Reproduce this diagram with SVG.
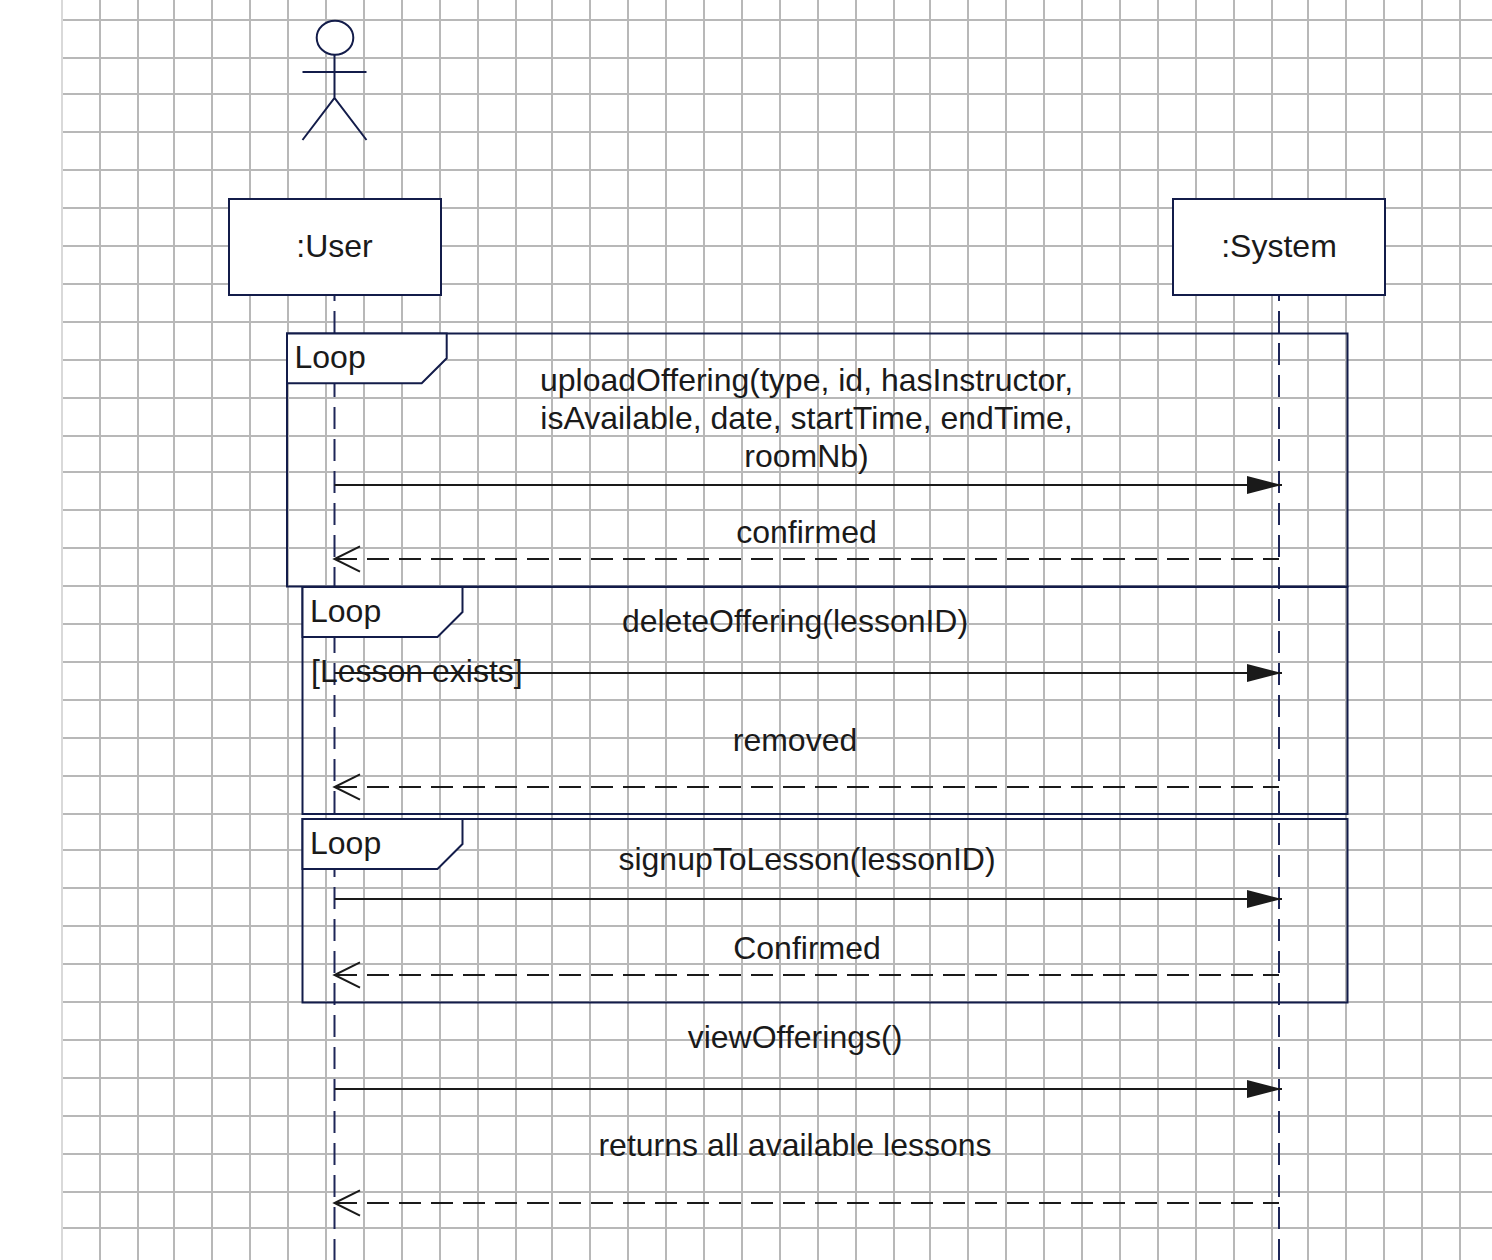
<svg xmlns="http://www.w3.org/2000/svg" width="1492" height="1260" viewBox="0 0 1492 1260">
<style>
text{font-family:"Liberation Sans",Arial,sans-serif;font-size:32px;fill:#1a1a1a}
.c{text-anchor:middle}
.g path{fill:none;stroke:#b8b8b8;stroke-width:2}
.n{fill:#fff;stroke:#131c4a;stroke-width:2}
.f{fill:none;stroke:#131c4a;stroke-width:2}
.life{stroke:#1e2658;stroke-width:2;fill:none;stroke-dasharray:22 10;stroke-dashoffset:16}
.msg{stroke:#1a1a1a;stroke-width:2;fill:none}
.ret{stroke:#1a1a1a;stroke-width:2;fill:none;stroke-dasharray:22 10;stroke-dashoffset:6}
.open{stroke:#1a1a1a;stroke-width:2;fill:none}
</style>
<defs>
<marker id="solid" markerUnits="userSpaceOnUse" markerWidth="36" markerHeight="20" refX="35" refY="9" orient="auto"><path d="M0 0L35 9L0 18Z" fill="#1a1a1a"/></marker>
</defs>
<rect width="1492" height="1260" fill="#fff"/>
<g id="grid" class="g">
<path d="M100 0V1260M138 0V1260M174 0V1260M212 0V1260M250 0V1260M288 0V1260M326 0V1260M364 0V1260M402 0V1260M440 0V1260M478 0V1260M516 0V1260M552 0V1260M590 0V1260M628 0V1260M666 0V1260M704 0V1260M742 0V1260M780 0V1260M818 0V1260M856 0V1260M894 0V1260M930 0V1260M968 0V1260M1006 0V1260M1044 0V1260M1082 0V1260M1120 0V1260M1158 0V1260M1196 0V1260M1234 0V1260M1272 0V1260M1308 0V1260M1346 0V1260M1384 0V1260M1422 0V1260M1460 0V1260"/>
<path d="M62 20H1492M62 58H1492M62 94H1492M62 132H1492M62 170H1492M62 208H1492M62 246H1492M62 284H1492M62 322H1492M62 360H1492M62 398H1492M62 436H1492M62 472H1492M62 510H1492M62 548H1492M62 586H1492M62 624H1492M62 662H1492M62 700H1492M62 738H1492M62 776H1492M62 814H1492M62 850H1492M62 888H1492M62 926H1492M62 964H1492M62 1002H1492M62 1040H1492M62 1078H1492M62 1116H1492M62 1154H1492M62 1192H1492M62 1228H1492"/>
<path d="M62 0V1260" style="stroke:#d9d9d9;stroke-width:2"/>
</g>
<g id="lifelines">
<path class="life" d="M334.500 295V1260M1279 295V1260"/>
</g>
<g id="actor">
<ellipse class="n" cx="335" cy="37.700" rx="18.300" ry="17"/>
<path class="f" d="M334.500 54.500V98M302.500 72H366.500M302.500 140L334.500 98L366.500 140"/>
</g>
<g id="user"><rect class="n" x="229" y="199" width="212" height="96"/><text class="c" x="334.500" y="257">:User</text></g>
<g id="system"><rect class="n" x="1173" y="199" width="212" height="96"/><text class="c" x="1279" y="257">:System</text></g>
<g id="loop1">
<rect class="f" x="287" y="333.500" width="1060.500" height="253"/>
<path class="n" d="M287 333.500H446.700V358.300L421.700 383.300H287Z"/>
<text x="294.500" y="368">Loop</text>
</g>
<g id="loop2">
<rect class="f" x="302.500" y="587" width="1045" height="227"/>
<path class="n" d="M302.500 587H462.500V612L437.500 637H302.500Z"/>
<text x="310" y="622">Loop</text>
</g>
<g id="loop3">
<rect class="f" x="302.500" y="819" width="1045" height="183.500"/>
<path class="n" d="M302.500 819H462.500V844L437.500 869H302.500Z"/>
<text x="310" y="854">Loop</text>
</g>
<g id="connectors">
<path class="msg" marker-end="url(#solid)" d="M334.500 485H1282"/>
<path class="ret" d="M1279 559H334.500"/><path class="open" d="M360 546.300L334.500 559L360 571.700"/>
<path class="msg" marker-end="url(#solid)" d="M334.500 673H1282"/>
<path class="ret" d="M1279 787H334.500"/><path class="open" d="M360 774.300L334.500 787L360 799.700"/>
<path class="msg" marker-end="url(#solid)" d="M334.500 899H1282"/>
<path class="ret" d="M1279 975H334.500"/><path class="open" d="M360 962.300L334.500 975L360 987.700"/>
<path class="msg" marker-end="url(#solid)" d="M334.500 1089H1282"/>
<path class="ret" d="M1279 1203H334.500"/><path class="open" d="M360 1190.300L334.500 1203L360 1215.700"/>
</g>
<g id="labels">
<text class="c" x="806.500" y="391">uploadOffering(type, id, hasInstructor,</text>
<text class="c" x="806.500" y="429">isAvailable, date, startTime, endTime,</text>
<text class="c" x="806.500" y="467">roomNb)</text>
<text class="c" x="806.500" y="543">confirmed</text>
<text class="c" x="795" y="632">deleteOffering(lessonID)</text>
<text x="311" y="682">[Lesson exists]</text>
<text class="c" x="795" y="751">removed</text>
<text class="c" x="807" y="870">signupToLesson(lessonID)</text>
<text class="c" x="807" y="959">Confirmed</text>
<text class="c" x="795" y="1048">viewOfferings()</text>
<text class="c" x="795" y="1156">returns all available lessons</text>
</g>
</svg>
